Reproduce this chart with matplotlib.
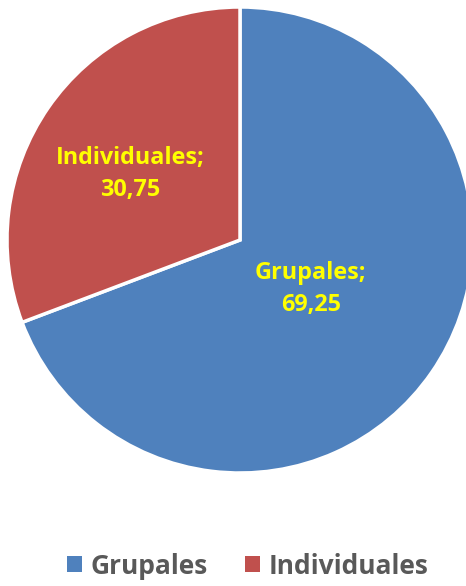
import matplotlib
matplotlib.use("Agg")
import matplotlib.pyplot as plt
import numpy as np
from matplotlib.patches import Patch

categories = ["Grupales", "Individuales"]
values = [69.25, 30.75]
value_labels = ["69,25", "30,75"]
colors = ["#4F81BD", "#C0504D"]

W, H = 466, 586
fig = plt.figure(figsize=(W / 100, H / 100), dpi=100)
cx, cy, R = 240, 240, 233
ax = fig.add_axes([(cx - R) / W, (H - cy - R) / H, 2 * R / W, 2 * R / H])

wedges, _ = ax.pie(values, colors=colors, startangle=90, counterclock=False,
                   radius=1, wedgeprops=dict(edgecolor="white", linewidth=2.5))
for w in wedges:
    w.set_clip_on(False)
ax.set_xlim(-1, 1)
ax.set_ylim(-1, 1)
ax.set_aspect("equal")
ax.axis("off")

label_r = [0.37, 0.55]
label_da = [0, 3.5]
total = sum(values)
start = 90
for i, (c, v, vl) in enumerate(zip(categories, values, value_labels)):
    mid = start - v / total * 360 / 2 + label_da[i]
    start -= v / total * 360
    ang = np.deg2rad(mid)
    ax.text(label_r[i] * np.cos(ang), label_r[i] * np.sin(ang), f"{c};\n{vl}",
            ha="center", va="center", color="#FFFF00", fontsize=16.8,
            fontweight="bold", family="Open Sans", linespacing=1.45)

handles = [Patch(facecolor=col, edgecolor="none") for col in colors]
leg = fig.legend(handles, categories, loc="center", bbox_to_anchor=(248 / W, 1 - 566 / H),
                 ncol=2, frameon=False, handlelength=0.55, handleheight=0.55,
                 handletextpad=0.35, columnspacing=1.4,
                 prop=dict(family="Open Sans", weight="bold", size=19))
for t in leg.get_texts():
    t.set_color("#595959")

fig.savefig("out.png", dpi=100)
